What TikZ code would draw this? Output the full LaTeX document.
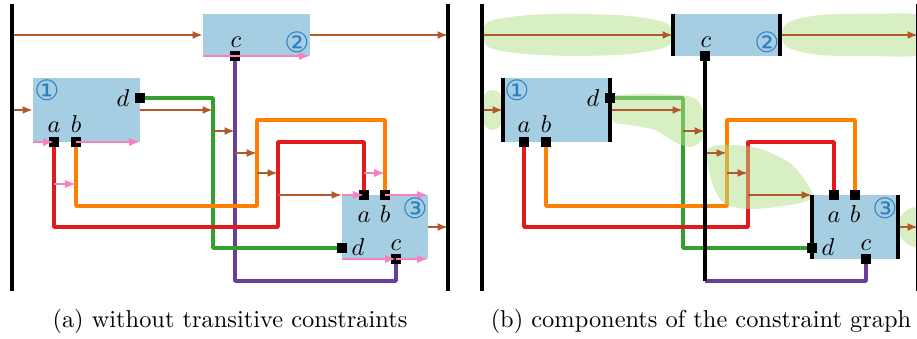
\documentclass[tikz,border=0pt]{standalone}
\usepackage{fontspec}
\newfontfamily\circfont{DejaVu Sans}
\usetikzlibrary{arrows.meta,fit}
\definecolor{boxblue}{HTML}{A6CEE3}
\definecolor{numblue}{HTML}{2B7FC0}
\definecolor{cgreen}{HTML}{33A02C}
\definecolor{cred}{HTML}{E31A1C}
\definecolor{corange}{HTML}{FF7F00}
\definecolor{cpurple}{HTML}{6A3D9A}
\definecolor{cbrown}{HTML}{B15928}
\definecolor{cpink}{HTML}{F781BF}
\definecolor{blobgreen}{HTML}{B2DF8A}

\newcommand\defpanel[1]{%
 \coordinate (#1t1) at (12,4); \coordinate (#1b1) at (12,291);
 \coordinate (#1t2) at (448,4); \coordinate (#1b2) at (448,291);
 \coordinate (#1B1nw) at (33,78); \coordinate (#1B1se) at (140,142);
 \coordinate (#1B2nw) at (203,14); \coordinate (#1B2se) at (310,56);
 \coordinate (#1B3nw) at (342,195); \coordinate (#1B3se) at (428,259);
 \coordinate (#1pa1) at (54,142); \coordinate (#1pb1) at (76,142); \coordinate (#1pd1) at (140,98);
 \coordinate (#1pc2) at (235,56);
 \coordinate (#1pa3) at (364,195); \coordinate (#1pb3) at (385,195);
 \coordinate (#1pc3) at (396,259); \coordinate (#1pd3) at (342,248);
 \coordinate (#1g1) at (213,98); \coordinate (#1g2) at (213,248);
 \coordinate (#1r1) at (54,227); \coordinate (#1r2) at (278,227);
 \coordinate (#1r3) at (278,142); \coordinate (#1r4) at (364,142);
 \coordinate (#1o1) at (76,206); \coordinate (#1o2) at (257,206);
 \coordinate (#1o3) at (257,120); \coordinate (#1o4) at (385,120);
 \coordinate (#1v1) at (235,281); \coordinate (#1v2) at (396,281);
 \coordinate (#1e1) at (12,35); \coordinate (#1e2) at (448,35);
 \coordinate (#1e3) at (12,110); \coordinate (#1e4) at (213,110);
 \coordinate (#1e5s) at (213,131); \coordinate (#1e5t) at (235,131);
 \coordinate (#1e6s) at (235,153); \coordinate (#1e6t) at (257,153);
 \coordinate (#1e7s) at (257,173); \coordinate (#1e7t) at (278,173);
 \coordinate (#1e8s) at (278,195);
 \coordinate (#1e9) at (448,227);
 \node[box, fit=(#1B1nw)(#1B1se)] (#1B1) {};
 \node[box, fit=(#1B2nw)(#1B2se)] (#1B2) {};
 \node[box, fit=(#1B3nw)(#1B3se)] (#1B3) {};
}
\newcommand\colorlines[1]{%
 \draw[cline, cgreen] (#1pd1) -- (#1g1) -- (#1g2) -- (#1pd3);
 \draw[cline, corange] (#1pb1) -- (#1o1) -- (#1o2) -- (#1o3) -- (#1o4) -- (#1pb3);
 \draw[cline, cred] (#1pa1) -- (#1r1) -- (#1r2) -- (#1r3) -- (#1r4) -- (#1pa3);
}
\newcommand\brownarrows[1]{%
 \draw[brownarrow] (#1e1) -- (#1B2.west);
 \draw[brownarrow] (#1B2.east) -- (#1e2);
 \draw[brownarrow] (#1e3) -- (#1B1.west);
 \draw[brownarrow] (#1B1.east) -- (#1e4);
 \draw[brownarrow] (#1e5s) -- (#1e5t);
 \draw[brownarrow] (#1e6s) -- (#1e6t);
 \draw[brownarrow] (#1e7s) -- (#1e7t);
 \draw[brownarrow] (#1e8s) -- (#1B3.north west);
 \draw[brownarrow] (#1B3.east) -- (#1e9);
}
\newcommand\ports[1]{%
 \node[port] (#1Pa1) at (#1pa1) {};
 \node[port] (#1Pb1) at (#1pb1) {};
 \node[port] (#1Pd1) at (#1pd1) {};
 \node[port] (#1Pc2) at (#1pc2) {};
 \node[port] (#1Pa3) at (#1pa3) {};
 \node[port] (#1Pb3) at (#1pb3) {};
 \node[port] (#1Pc3) at (#1pc3) {};
 \node[port] (#1Pd3) at (#1pd3) {};
}
\newcommand\labels[1]{%
 \node[lab] (#1La1) at (54,133) {$a$};
 \node[lab] (#1Lb1) at (76,133) {$b$};
 \node[lab] (#1Ld1) at (123,107) {$d$};
 \node[num] (#1N1) at (47,90) {①};
 \node[lab] (#1Lc2) at (236,48) {$c$};
 \node[num] (#1N2) at (297,42) {②};
 \node[lab] (#1La3) at (364,223) {$a$};
 \node[lab] (#1Lb3) at (385,223) {$b$};
 \node[lab] (#1Ld3) at (358,256) {$d$};
 \node[lab] (#1Lc3) at (396,251) {$c$};
 \node[num] (#1N3) at (415,208) {③};
}

\begin{document}
\begin{tikzpicture}[x=0.41pt,y=-0.41pt,
  box/.style={fill=boxblue, draw=none, inner sep=0pt, outer sep=0pt},
  port/.style={fill=black, draw=none, inner sep=0pt, minimum size=4.1pt},
  cline/.style={line width=1.4pt, line join=round},
  brownarrow/.style={draw=cbrown, line width=0.85pt, -{Latex[length=4.3pt,width=3.3pt]}},
  pinkarrow/.style={draw=cpink, line width=1pt, -{Latex[length=4.5pt,width=3.5pt]}},
  frameline/.style={line width=1.4pt},
  sideline/.style={line width=1.3pt},
  lab/.style={anchor=base, inner sep=0pt},
  num/.style={text=numblue, font=\circfont\fontsize{11.5}{13}\selectfont, inner sep=0pt},
  blob/.style={fill=blobgreen, fill opacity=0.5, draw=none},
  captext/.style={anchor=base, inner sep=0pt}]
\useasboundingbox (0,0) rectangle (917,339);

% ---------------- panel (a)
\begin{scope}
 \defpanel{A}
 \draw[cline, cpurple] (Apc2) -- (Av1) -- (Av2) -- (Apc3);
 \colorlines{A}
 \ports{A}
 \draw[pinkarrow] (AB1.south west) -- (Apa1);
 \draw[pinkarrow] (Apb1) -- (AB1.south east);
 \draw[pinkarrow] (AB2.south west) -- (AB2.south east);
 \draw[pinkarrow] (AB3.north west) -- (Apa3);
 \draw[pinkarrow] (Apb3) -- (AB3.north east);
 \draw[pinkarrow] (AB3.south west) -- (Apc3);
 \draw[pinkarrow] (Apc3) -- (AB3.south east);
 \coordinate (Aq1) at (54,184); \coordinate (Aq2) at (76,184);
 \coordinate (Aq3) at (364,173); \coordinate (Aq4) at (385,173);
 \draw[pinkarrow] (Aq1) -- (Aq2);
 \draw[pinkarrow] (Aq3) -- (Aq4);
 \brownarrows{A}
 \draw[frameline] (At1) -- (Ab1);
 \draw[frameline] (At2) -- (Ab2);
 \labels{A}
\end{scope}

% ---------------- panel (b)
\begin{scope}[shift={(470,0)}]
 \defpanel{B}
 \draw[cline, cpurple] (Bv1) -- (Bv2) -- (Bpc3);
 \colorlines{B}
 % blobs
 \fill[blob] plot[smooth cycle] coordinates {(12,35) (20,21) (60,15) (107,14) (160,16) (196,23) (203,35) (196,47) (160,54) (107,56) (55,54) (20,48)};
 \fill[blob] plot[smooth cycle] coordinates {(311,35) (319,22) (350,15) (400,14) (450,15) (490,35) (450,55) (400,56) (350,55) (319,48)};
 \fill[blob, rounded corners=4pt] (13,90) rectangle (32,130);
 \fill[blob] plot[smooth cycle] coordinates {(141,98) (148,95) (185,94) (222,97) (233,110) (236,127) (230,142) (220,147) (205,142) (185,130) (160,125) (143,121)};
 \fill[blob] plot[smooth cycle] coordinates {(237,150) (252,145) (287,148) (320,163) (338,185) (342,198) (320,205) (280,209) (255,204) (244,188) (238,166)};
 \fill[blob, rounded corners=8pt] (428,207) rectangle (470,247);
 \brownarrows{B}
 \draw[frameline] (Bpc2) -- (Bv1);
 \draw[sideline] (BB1.north west) -- (BB1.south west);
 \draw[sideline] (BB1.north east) -- (BB1.south east);
 \draw[sideline] (BB2.north west) -- (BB2.south west);
 \draw[sideline] (BB2.north east) -- (BB2.south east);
 \draw[sideline] (BB3.north west) -- (BB3.south west);
 \draw[sideline] (BB3.north east) -- (BB3.south east);
 \draw[frameline] (Bt1) -- (Bb1);
 \draw[frameline] (Bt2) -- (Bb2);
 \ports{B}
 \labels{B}
\end{scope}

\node[captext] (capa) at (230,328) {(a) without transitive constraints};
\node[captext] (capb) at (701,328) {(b) components of the constraint graph};
\end{tikzpicture}
\end{document}
